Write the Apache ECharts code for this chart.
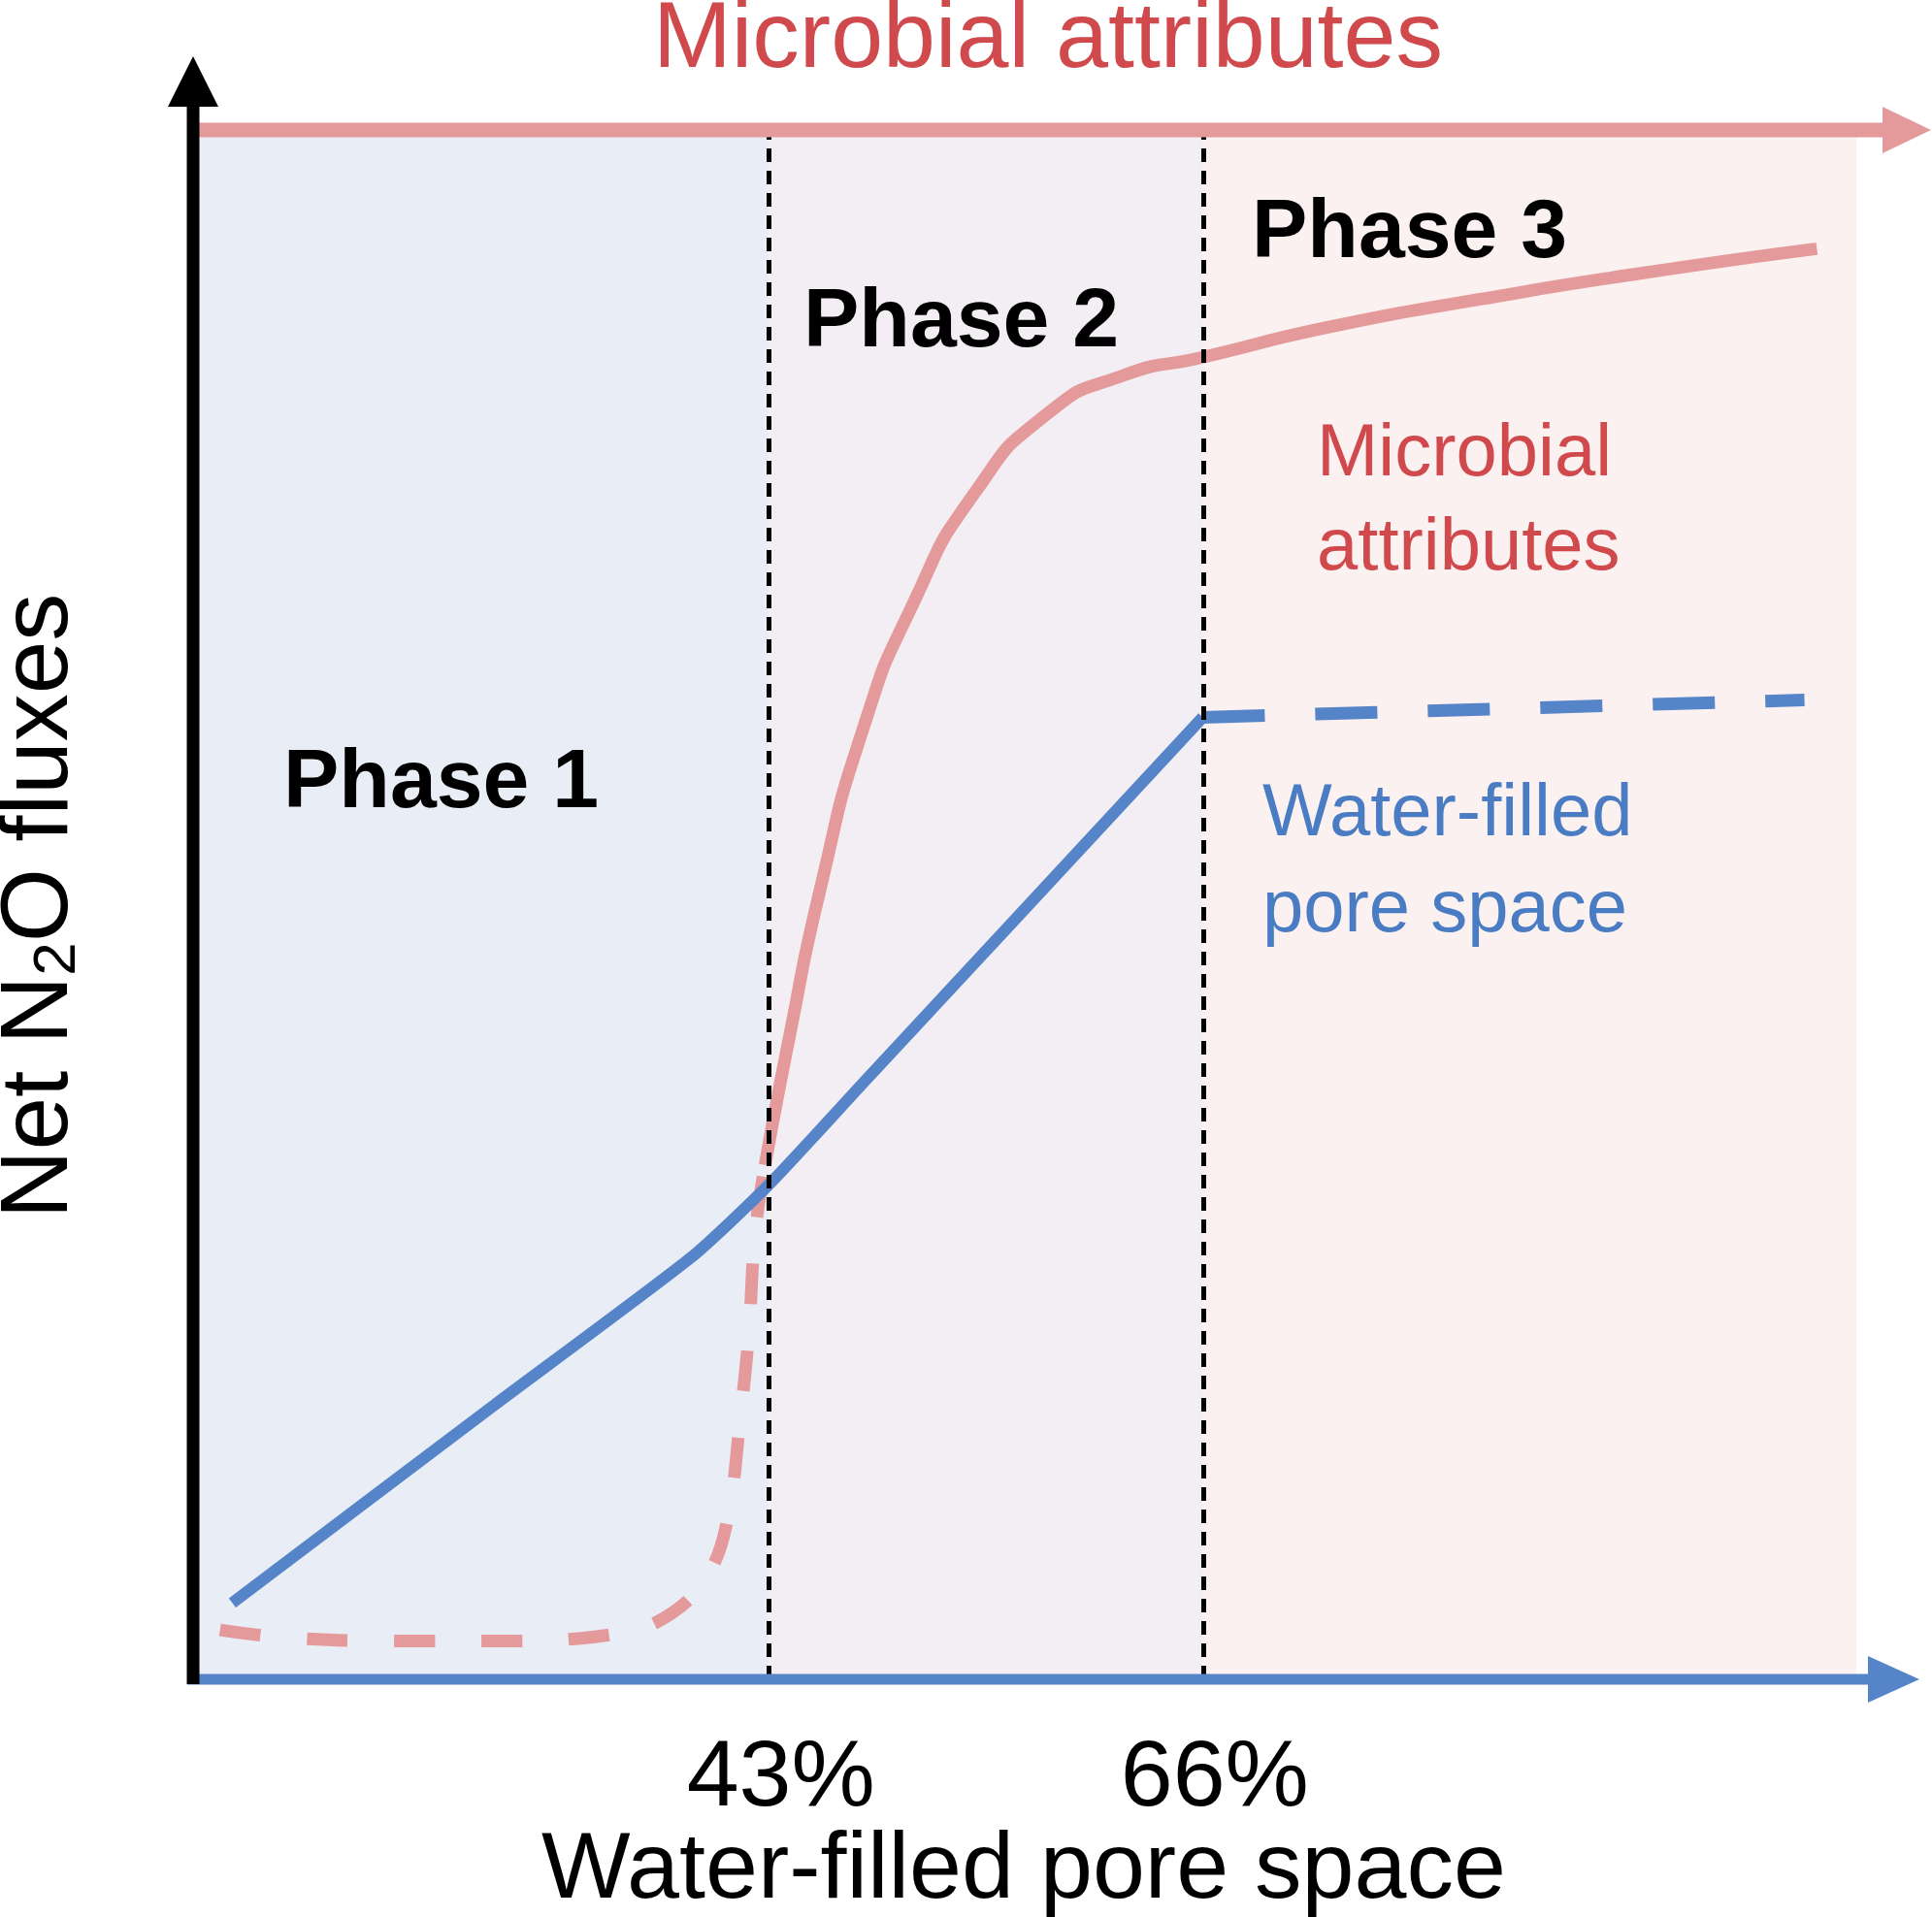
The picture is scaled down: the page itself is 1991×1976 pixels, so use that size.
<!DOCTYPE html>
<html><head><meta charset="utf-8">
<script src="https://cdn.jsdelivr.net/npm/echarts@6/dist/echarts.min.js"></script>
<style>html,body{margin:0;padding:0;background:#fff}#c{width:1991px;height:1976px}</style>
</head><body><div id="c"></div>
<script>
// abstract 0-100 scales for the conceptual diagram
const phaseBounds = [0, 34.6, 60.7, 100];
const phaseColors = ['#e9edf6', '#f3eef3', '#fcf1f1'];
const thresholdX = [34.6, 60.7];
const tickLabels = ['43%', '66%'];
const microbialDashed = [[1.56,3.18],[5.42,2.70],[12.09,2.47],[18.03,2.47],[25.45,2.94],[28.78,4.30],[31.01,6.92],[32.12,10.50],[32.86,16.87],[33.38,22.43],[33.75,28.80],[34.35,33.17]];
const microbialSolid = [[34.35,33.17],[35.83,41.53],[37.69,51.07],[40.28,61.42],[43.25,69.37],[46.96,76.53],[51.41,81.70],[55.86,84.09],[60.68,85.28],[68.47,87.27],[77.37,89.02],[87.02,90.69],[97.63,92.28]];
const wfpsSolid = [[2.30,4.93],[18.03,17.66],[29.90,27.21],[34.50,31.82],[40.28,38.50],[60.68,62.05]];
const wfpsDashed = [[60.68,62.05],[96.88,63.17]];

const pink = '#e49a9a', blue = '#5584c8', red = '#d0494c', wblue = '#4a7cc4';
const font = 'Liberation Sans, Arial, sans-serif';
const chart = echarts.init(document.getElementById('c'));
chart.setOption({
  animation: false,
  grid: {left: 200, right: 78, top: 133, bottom: 245},
  xAxis: {type: 'value', min: 0, max: 100, show: false},
  yAxis: {type: 'value', min: 0, max: 100, show: false},
  series: [
    {type: 'line', data: [], silent: true,
     markArea: {silent: true, data: phaseColors.map((c, i) => [{xAxis: phaseBounds[i], itemStyle: {color: c}}, {xAxis: phaseBounds[i+1]}])},
     markLine: {silent: true, symbol: 'none',
       lineStyle: {color: '#000', type: [14, 9], width: 5},
       label: {position: 'start', distance: 55, offset: [12, 0], color: '#000', fontSize: 97, fontFamily: font,
               formatter: p => tickLabels[thresholdX.indexOf(p.value)]},
       data: thresholdX.map(x => ({xAxis: x}))}},
    {type: 'line', data: microbialDashed, showSymbol: false, smooth: 0.4, lineStyle: {color: pink, width: 13, type: [42, 48]}},
    {type: 'line', data: microbialSolid, showSymbol: false, smooth: 0.6, lineStyle: {color: pink, width: 13}},
    {type: 'line', data: wfpsSolid, showSymbol: false, smooth: 0.2, lineStyle: {color: blue, width: 12}},
    {type: 'line', data: wfpsDashed, showSymbol: false, lineStyle: {color: blue, width: 13, type: [64, 52]}}
  ],
  graphic: [
    {type: 'line', z: 100, shape: {x1: 205, y1: 134, x2: 1950, y2: 134}, style: {stroke: pink, lineWidth: 15}},
    {type: 'polygon', z: 100, shape: {points: [[1940,110],[1990,134],[1940,158]]}, style: {fill: pink}},
    {type: 'line', z: 100, shape: {x1: 193, y1: 1731, x2: 1940, y2: 1731}, style: {stroke: blue, lineWidth: 11}},
    {type: 'polygon', z: 100, shape: {points: [[1925,1707],[1978,1731],[1925,1755]]}, style: {fill: blue}},
    {type: 'line', z: 100, shape: {x1: 199, y1: 100, x2: 199, y2: 1736}, style: {stroke: '#000', lineWidth: 13}},
    {type: 'polygon', z: 100, shape: {points: [[173,110],[199,58],[225,110]]}, style: {fill: '#000'}},
    {type: 'text', z: 100, style: {text: 'Microbial attributes', x: 1080, y: 42, align: 'center', verticalAlign: 'middle', fill: red, font: '97px ' + font}},
    {type: 'text', z: 100, style: {text: 'Phase 1', x: 292, y: 808, align: 'left', verticalAlign: 'middle', fill: '#000', font: 'bold 86px ' + font}},
    {type: 'text', z: 100, style: {text: 'Phase 2', x: 828, y: 333, align: 'left', verticalAlign: 'middle', fill: '#000', font: 'bold 86px ' + font}},
    {type: 'text', z: 100, style: {text: 'Phase 3', x: 1290, y: 241, align: 'left', verticalAlign: 'middle', fill: '#000', font: 'bold 86px ' + font}},
    {type: 'text', z: 100, style: {text: 'Microbial\nattributes', x: 1357, y: 518, align: 'left', verticalAlign: 'middle', fill: red, font: '76px ' + font, lineHeight: 97}},
    {type: 'text', z: 100, style: {text: 'Water-filled\npore space', x: 1301, y: 890, align: 'left', verticalAlign: 'middle', fill: wblue, font: '76px ' + font, lineHeight: 99}},
    {type: 'text', z: 100, style: {text: 'Water-filled pore space', x: 1055, y: 1929, align: 'center', verticalAlign: 'middle', fill: '#000', font: '97px ' + font}},
    {type: 'text', z: 100, rotation: Math.PI / 2, x: 42, y: 934,
     style: {text: '{a|Net N}{s|2}{a|O fluxes}', align: 'center', verticalAlign: 'middle',
             rich: {a: {fontSize: 98, fontFamily: font, fill: '#000', verticalAlign: 'bottom'},
                    s: {fontSize: 62, fontFamily: font, fill: '#000', verticalAlign: 'bottom'}}}}
  ]
});
</script></body></html>
